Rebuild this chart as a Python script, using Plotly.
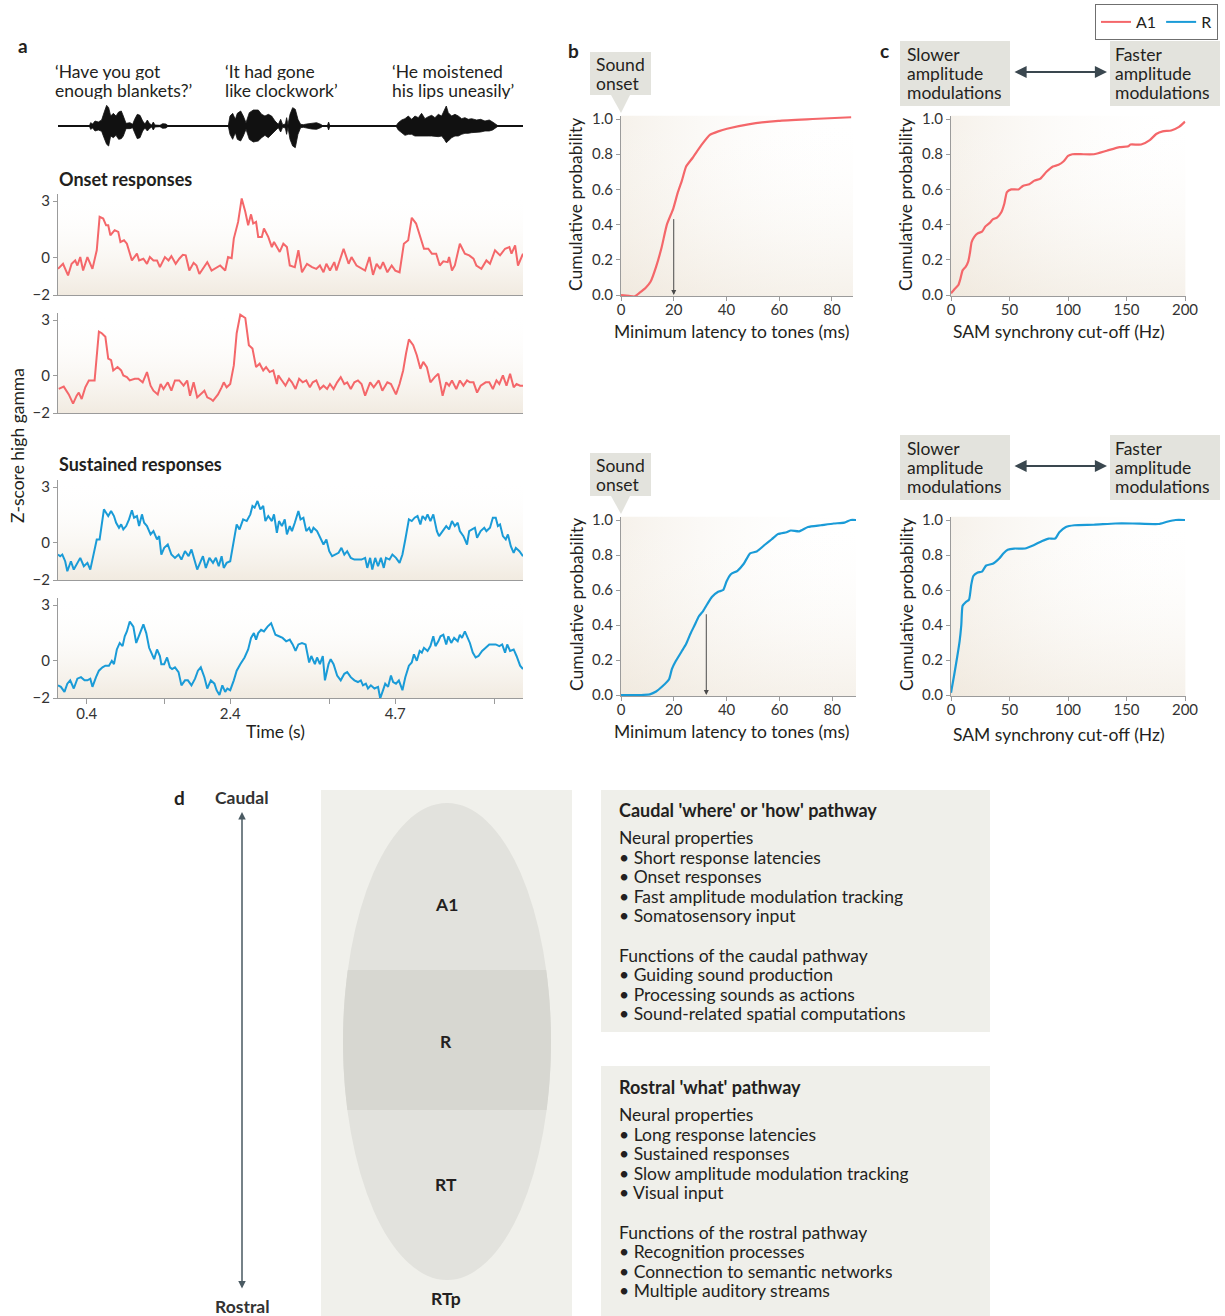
import numpy as np
import plotly.graph_objects as go

W, H = 1225, 1316
RED = '#f4676a'
BLUE = '#1a9bd7'
TXT = '#231f20'
AXC = '#9b9b9b'
BOX = '#e3e3dd'
FONT = 'Lato'

# ---------------- DATA ----------------
# panel a : speech waveform envelopes (time s, upper amp, lower amp)  (arbitrary units)
wave1 = [(0.437,0,0),(0.455,10,10),(0.483,6,6),(0.516,15,15),(0.562,12,12),(0.608,18,16),(0.641,40,35),
         (0.678,62,55),(0.706,55,60),(0.734,30,30),(0.771,38,35),(0.808,30,28),(0.845,42,40),(0.882,45,38),
         (0.910,30,30),(0.948,8,8),(1.003,10,8),(1.040,5,5),(1.068,20,20),(1.105,35,38),(1.143,32,35),
         (1.180,15,15),(1.212,6,6),(1.245,18,15),(1.273,8,8),(1.305,3,3),(1.328,12,12),(1.351,3,3),
         (1.421,2,2),(1.458,7,7),(1.505,6,6),(1.537,0,0)]
wave2 = [(2.373,0,0),(2.397,30,25),(2.434,38,40),(2.471,20,20),(2.499,38,40),(2.545,45,45),(2.582,30,30),
         (2.620,10,10),(2.666,40,40),(2.722,48,48),(2.791,48,45),(2.838,35,35),(2.884,30,28),(2.931,35,35),
         (2.977,30,28),(3.024,15,15),(3.070,5,5),(3.103,20,18),(3.131,4,4),(3.168,6,6),(3.186,25,25),
         (3.205,4,4),(3.233,35,40),(3.270,55,60),(3.307,50,65),(3.344,20,25),(3.381,5,5),(3.418,4,4),
         (3.465,6,6),(3.535,9,9),(3.604,10,10),(3.660,5,5),(3.697,0,0),(3.753,0,0),(3.771,12,12),(3.790,0,0)]
wave3 = [(4.710,0,0),(4.742,10,12),(4.789,18,20),(4.835,22,28),(4.882,30,25),(4.928,20,25),(4.974,30,30),
         (5.021,25,28),(5.067,38,30),(5.114,22,30),(5.160,28,30),(5.207,32,30),(5.253,25,30),(5.300,35,32),
         (5.346,30,30),(5.383,45,40),(5.411,60,50),(5.439,40,45),(5.485,30,35),(5.532,35,30),(5.578,30,30),
         (5.625,22,25),(5.671,25,22),(5.717,20,22),(5.764,22,20),(5.834,18,18),(5.889,20,18),(5.950,15,15),
         (6.010,18,15),(6.057,12,12),(6.103,5,5),(6.136,0,0)]

# onset response 1 (A1)
t_on1 = [0.00,0.07,0.14,0.19,0.24,0.27,0.31,0.35,0.41,0.48,
         0.54,0.58,0.63,0.67,0.70,0.73,0.79,0.84,0.87,0.92,
         0.96,1.03,1.10,1.13,1.19,1.24,1.28,1.33,1.38,1.42,
         1.49,1.54,1.58,1.64,1.69,1.74,1.78,1.83,1.89,1.93,
         1.97,2.03,2.08,2.14,2.21,2.26,2.33,2.37,2.42,2.45,
         2.51,2.56,2.61,2.65,2.69,2.72,2.76,2.79,2.84,2.87,
         2.93,2.98,3.01,3.05,3.09,3.14,3.19,3.23,3.30,3.35,
         3.40,3.47,3.54,3.60,3.65,3.70,3.74,3.79,3.85,3.88,
         3.98,4.05,4.09,4.16,4.23,4.28,4.34,4.39,4.44,4.49,
         4.53,4.59,4.65,4.70,4.76,4.82,4.88,4.93,4.99,5.04,
         5.10,5.16,5.21,5.27,5.32,5.37,5.43,5.45,5.49,5.53,
         5.60,5.67,5.73,5.79,5.83,5.90,5.97,6.02,6.09,6.16,
         6.23,6.29,6.32,6.37,6.41,6.48]
z_on1 = [-0.61,-0.34,-0.96,-0.34,-0.16,-0.43,0.02,-0.70,0.02,-0.61,
         0.38,2.16,2.07,1.71,1.71,1.18,1.45,1.36,0.82,0.91,
         0.73,-0.16,0.20,-0.16,-0.07,-0.34,0.02,-0.16,-0.16,-0.52,
         0.02,-0.16,0.07,-0.34,-0.07,0.14,0.11,-0.70,-0.29,-0.43,
         -0.88,-0.52,-0.25,-0.70,-0.52,-0.43,-0.70,0.02,-0.04,1.00,
         1.89,3.14,2.43,1.71,2.29,1.80,1.89,1.09,1.09,1.54,
         1.09,0.55,0.82,0.55,0.29,0.73,0.55,-0.43,-0.52,0.38,
         -0.79,-0.34,-0.52,-0.61,-0.43,-0.79,-0.34,-0.70,-0.25,-0.70,
         0.46,-0.34,0.02,-0.43,-0.61,-0.70,0.02,-0.93,-0.34,-0.61,
         -0.25,-0.79,-0.43,-0.70,-0.79,0.73,0.91,2.11,1.80,1.18,
         0.46,0.46,0.20,0.20,-0.43,-0.21,-0.25,0.02,-0.70,-0.43,
         0.73,0.20,0.11,-0.07,-0.43,-0.61,-0.16,-0.34,0.38,0.11,
         0.46,0.55,0.20,0.64,-0.43,0.20]

# onset response 2 (A1)  (time s, z)
onset2 = [(0.01,-0.70),(0.08,-0.58),(0.15,-1.00),(0.21,-1.50),(0.26,-1.07),(0.29,-0.90),(0.33,-1.25),(0.38,-0.62),(0.43,-0.25),(0.51,-0.25),
          (0.57,2.38),(0.61,2.29),(0.66,2.10),(0.70,0.93),(0.74,0.84),(0.77,0.29),(0.83,0.47),(0.88,0.29),(0.91,0.02),(0.96,-0.07),
          (1.00,-0.25),(1.07,-0.16),(1.12,-0.16),(1.18,-0.35),(1.24,0.20),(1.29,-0.53),(1.33,-0.80),(1.39,-1.00),(1.43,-0.44),(1.47,-0.71),
          (1.53,-0.35),(1.58,-0.80),(1.63,-0.25),(1.69,-0.25),(1.75,-0.53),(1.80,-0.25),(1.84,-1.07),(1.89,-0.35),(1.94,-1.16),(1.99,-1.00),
          (2.04,-0.80),(2.08,-1.16),(2.13,-1.25),(2.16,-1.35),(2.23,-1.00),(2.28,-0.62),(2.31,-0.35),(2.35,-0.62),(2.40,-0.44),(2.45,0.56),
          (2.49,2.29),(2.54,3.29),(2.61,3.11),(2.66,1.65),(2.71,1.47),(2.76,0.47),(2.81,0.65),(2.86,0.29),(2.90,0.47),(2.95,0.20),
          (3.00,0.29),(3.05,-0.44),(3.07,0.02),(3.12,-0.25),(3.17,-0.53),(3.22,-0.16),(3.26,-0.35),(3.31,-0.71),(3.36,-0.16),(3.41,-0.35),
          (3.46,-0.25),(3.51,-0.62),(3.55,-0.35),(3.60,-0.25),(3.65,-0.71),(3.70,-0.53),(3.75,-0.71),(3.79,-0.44),(3.84,-0.71),(3.89,-0.35),
          (3.94,-0.07),(3.99,-0.44),(4.03,-0.35),(4.08,-0.71),(4.13,-0.35),(4.18,-0.25),(4.23,-0.44),(4.28,-1.07),(4.35,-0.35),(4.40,-0.62),
          (4.47,-0.25),(4.52,-0.80),(4.59,-0.35),(4.64,-0.44),(4.71,-1.00),(4.76,-0.44),(4.81,0.29),(4.85,1.20),(4.89,1.96),(4.95,1.65),
          (5.00,1.11),(5.05,0.38),(5.09,0.75),(5.14,0.47),(5.19,-0.35),(5.25,-0.07),(5.30,0.11),(5.36,-1.07),(5.41,-0.35),(5.45,-0.53),
          (5.49,-0.25),(5.55,-0.71),(5.60,-0.25),(5.65,-0.53),(5.70,-0.25),(5.74,-0.35),(5.79,-0.35),(5.84,-0.90),(5.89,-0.53),(5.96,-0.35),
          (6.01,-0.35),(6.06,-0.71),(6.11,-0.25),(6.15,-0.44),(6.20,0.02),(6.25,-0.53),(6.30,0.11),(6.35,-0.62),(6.39,-0.44),(6.44,-0.53),
          (6.48,-0.53)]

# sustained response 1 (R)
sustained1 = [(0.00,-0.63),(0.03,-0.72),(0.06,-0.63),(0.10,-0.99),(0.13,-1.53),(0.18,-0.99),(0.22,-1.44),(0.27,-1.08),(0.31,-0.81),(0.36,-1.26),
              (0.41,-1.08),(0.45,-1.44),(0.50,-0.45),(0.54,0.18),(0.58,0.18),(0.62,1.17),(0.64,1.80),(0.67,1.62),(0.70,1.44),(0.74,1.71),
              (0.78,1.44),(0.81,1.08),(0.85,0.81),(0.88,0.99),(0.91,0.72),(0.95,0.90),(0.99,1.26),(1.03,1.75),(1.06,1.35),(1.10,1.44),
              (1.13,0.90),(1.17,1.53),(1.20,1.08),(1.24,0.90),(1.29,0.45),(1.33,0.63),(1.38,0.18),(1.41,0.36),(1.44,-0.63),(1.48,-0.27),
              (1.53,-0.09),(1.58,-0.63),(1.63,-0.81),(1.68,-0.63),(1.72,-0.90),(1.77,-0.45),(1.82,-0.72),(1.86,-0.36),(1.89,-0.81),(1.94,-1.44),
              (1.99,-0.99),(2.02,-0.72),(2.06,-1.35),(2.11,-0.81),(2.16,-1.08),(2.20,-0.81),(2.24,-1.26),(2.28,-0.72),(2.31,-1.35),(2.35,-1.08),
              (2.40,-0.99),(2.45,0.09),(2.49,0.99),(2.53,0.72),(2.58,1.26),(2.63,1.17),(2.68,1.53),(2.71,1.98),(2.74,1.89),(2.78,2.25),
              (2.82,1.80),(2.86,1.98),(2.89,1.17),(2.93,1.44),(2.98,1.17),(3.01,1.53),(3.05,0.54),(3.08,1.17),(3.12,0.90),(3.16,1.26),
              (3.19,0.45),(3.23,0.90),(3.26,0.63),(3.30,1.08),(3.35,1.71),(3.38,1.26),(3.42,1.35),(3.46,0.63),(3.50,0.81),(3.53,0.54),
              (3.56,0.81),(3.61,0.63),(3.66,0.18),(3.70,-0.09),(3.74,0.18),(3.78,-0.45),(3.82,-0.72),(3.87,-0.63),(3.91,-0.54),(3.95,-0.27),
              (3.99,-0.63),(4.03,-0.45),(4.08,-0.81),(4.13,-0.90),(4.18,-0.90),(4.23,-0.90),(4.28,-0.81),(4.31,-1.35),(4.35,-0.81),(4.38,-1.44),
              (4.42,-0.81),(4.46,-1.26),(4.50,-0.81),(4.54,-1.35),(4.57,-0.81),(4.62,-0.90),(4.66,-0.63),(4.71,-0.81),(4.76,-1.08),(4.80,-0.63),
              (4.84,0.18),(4.89,1.26),(4.93,1.17),(4.97,1.35),(5.01,1.44),(5.05,0.99),(5.08,1.44),(5.12,1.26),(5.15,1.53),(5.19,1.17),
              (5.23,1.53),(5.28,0.63),(5.31,0.36),(5.36,0.63),(5.41,0.90),(5.45,0.72),(5.49,1.17),(5.53,0.90),(5.57,1.08),(5.60,0.63),
              (5.65,0.36),(5.70,-0.09),(5.73,0.63),(5.77,0.72),(5.81,0.81),(5.84,0.27),(5.89,0.63),(5.94,0.81),(5.97,0.63),(6.02,0.81),
              (6.06,1.35),(6.10,1.35),(6.13,0.90),(6.16,0.99),(6.20,0.36),(6.24,0.18),(6.27,0.45),(6.31,-0.18),(6.35,-0.54),(6.38,-0.27),
              (6.43,-0.45),(6.48,-0.72)]

# sustained response 2 (R)
sustained2 = [(0.00,-1.32),(0.04,-1.40),(0.09,-1.67),(0.13,-1.23),(0.17,-1.05),(0.22,-1.49),(0.27,-0.96),(0.32,-0.88),(0.37,-1.05),(0.41,-1.05),
              (0.45,-0.96),(0.48,-1.40),(0.53,-0.88),(0.57,-0.53),(0.62,-0.35),(0.66,-0.26),(0.71,-0.26),(0.75,0.00),(0.78,-0.18),(0.82,0.61),
              (0.86,0.96),(0.90,0.79),(0.93,1.32),(0.96,1.58),(1.00,2.11),(1.05,1.84),(1.09,0.96),(1.12,1.23),(1.16,1.67),(1.19,1.96),
              (1.23,1.49),(1.27,0.70),(1.30,0.44),(1.34,0.09),(1.38,0.61),(1.42,0.26),(1.44,-0.18),(1.48,-0.18),(1.52,0.18),(1.56,-0.35),
              (1.59,-0.44),(1.63,-0.35),(1.68,-0.61),(1.72,-1.32),(1.77,-1.05),(1.81,-1.05),(1.86,-1.32),(1.91,-0.96),(1.95,-0.53),(1.99,-0.35),
              (2.04,-0.88),(2.08,-1.49),(2.13,-1.05),(2.18,-1.23),(2.21,-1.58),(2.25,-1.84),(2.29,-1.32),(2.33,-1.67),(2.36,-1.49),(2.40,-1.58),
              (2.45,-1.05),(2.49,-0.53),(2.54,-0.18),(2.60,0.18),(2.65,0.61),(2.69,1.23),(2.73,1.49),(2.76,1.14),(2.79,1.49),(2.83,1.67),
              (2.87,1.58),(2.92,1.84),(2.97,2.02),(3.00,1.67),(3.03,1.40),(3.08,1.32),(3.13,1.23),(3.18,1.05),(3.23,1.14),(3.27,0.88),
              (3.31,0.53),(3.35,0.88),(3.40,0.96),(3.45,0.88),(3.50,-0.09),(3.53,0.26),(3.58,-0.18),(3.61,0.18),(3.65,-0.18),(3.69,0.26),
              (3.72,-1.05),(3.77,-0.18),(3.80,0.09),(3.84,-0.18),(3.89,-0.79),(3.94,-1.05),(3.99,-0.70),(4.03,-0.61),(4.08,-0.88),(4.13,-1.05),
              (4.18,-1.14),(4.22,-1.05),(4.25,-1.32),(4.29,-1.23),(4.32,-1.49),(4.36,-1.32),(4.41,-1.49),(4.46,-1.40),(4.49,-2.02),(4.53,-1.58),
              (4.56,-1.23),(4.60,-1.40),(4.64,-0.79),(4.67,-1.14),(4.71,-1.23),(4.75,-1.05),(4.80,-1.58),(4.84,-0.88),(4.89,-0.26),(4.93,-0.09),
              (4.96,0.35),(5.00,0.00),(5.04,0.53),(5.07,0.44),(5.10,0.70),(5.15,0.53),(5.19,0.79),(5.23,1.32),(5.26,0.79),(5.30,1.05),
              (5.33,1.32),(5.37,1.40),(5.41,0.88),(5.44,1.32),(5.48,0.96),(5.52,1.23),(5.57,1.05),(5.60,1.40),(5.63,1.23),(5.67,1.58),
              (5.71,1.23),(5.74,0.96),(5.78,0.44),(5.82,0.18),(5.86,0.26),(5.91,0.53),(5.96,0.70),(6.01,0.88),(6.06,0.88),(6.10,0.88),
              (6.15,0.79),(6.19,0.88),(6.23,0.44),(6.26,0.88),(6.30,0.53),(6.35,0.61),(6.39,0.26),(6.44,-0.26),(6.48,-0.44)]

time_ticks = [0.4, 1.48, 2.4, 3.78, 4.7, 6.08]
time_ticklabels = ['0.4', '', '2.4', '', '4.7', '']
z_ticks = [-2, 0, 3]
z_ticklabels = ['\u22122', '0', '3']

# panel b : cumulative distributions of minimum latency (ms, prob)
lat_A1 = [(0,0.0),(3,-0.005),(5.2,-0.008),(6.8,0.01),(9.3,0.04),(11.2,0.075),(13.3,0.16),(15.4,0.27),(17.4,0.40),
          (19.8,0.49),(21.5,0.58),(23.1,0.65),(24.7,0.73),(27.2,0.78),(30.4,0.85),(33.7,0.91),(36.9,0.93),
          (40.2,0.945),(48.3,0.97),(59.7,0.99),(72.7,1.0),(87.3,1.01)]
lat_R = [(0,0),(7.6,0),(10.9,0.004),(13.3,0.02),(15.7,0.05),(18.2,0.09),(19.3,0.15),(20.6,0.19),(23.0,0.25),
         (24.6,0.29),(26.3,0.35),(27.9,0.40),(29.5,0.45),(31.1,0.48),(32.7,0.52),(34.4,0.56),(36.8,0.59),
         (38.7,0.60),(40.0,0.65),(41.6,0.69),(44.1,0.71),(46.5,0.75),(48.9,0.81),(51.4,0.82),(54.6,0.86),
         (57.1,0.89),(59.5,0.92),(62.7,0.93),(64.3,0.94),(67.5,0.935),(70.8,0.96),(75.7,0.97),(80.6,0.98),
         (84.6,0.985),(87.0,1.0),(89.0,1.0)]
median_lat_A1 = (20, 0.44)
median_lat_R = (32.3, 0.47)

# panel c : cumulative distributions of SAM synchrony cut-off (Hz, prob)
sam_A1 = [(0,0.01),(2.6,0.03),(6.3,0.057),(8.1,0.094),(9.9,0.14),(12.5,0.16),(14.7,0.19),(16.2,0.24),(17.6,0.30),
          (19.9,0.33),(22.8,0.35),(26.5,0.36),(29.4,0.39),(33.1,0.41),(35.7,0.43),(39.3,0.44),(43.0,0.47),
          (45.6,0.52),(47.8,0.585),(51.5,0.60),(57.7,0.60),(61.4,0.62),(66.9,0.63),(71.3,0.65),(76.1,0.66),
          (81.6,0.70),(87.1,0.73),(91.9,0.74),(96.3,0.76),(100.0,0.79),(103.7,0.80),(111.0,0.80),(122.1,0.80),
          (133.1,0.82),(144.1,0.84),(151.5,0.845),(153.3,0.855),(162.5,0.855),(169.9,0.88),(175.4,0.915),
          (180.9,0.93),(188.2,0.935),(194.9,0.955),(200.0,0.985)]
sam_R = [(0,0.013),(2.6,0.11),(5.1,0.21),(7.4,0.31),(8.8,0.40),(9.9,0.51),(12.5,0.53),(15.4,0.545),(17.3,0.63),
         (19.1,0.68),(22.8,0.70),(26.5,0.705),(30.1,0.74),(35.7,0.75),(41.2,0.78),(44.9,0.81),(48.5,0.83),
         (54.0,0.837),(63.2,0.837),(70.6,0.856),(77.9,0.88),(83.5,0.894),(89.0,0.894),(92.6,0.93),(98.2,0.96),
         (105.5,0.97),(122.1,0.973),(140.4,0.98),(155.1,0.98),(177.2,0.977),(184.6,0.99),(191.9,1.0),(200.0,1.0)]

prob_ticks = [0, 0.2, 0.4, 0.6, 0.8, 1.0]
lat_ticks = [0, 20, 40, 60, 80]
sam_ticks = [0, 50, 100, 150, 200]

sentences = [['\u2018Have you got', 'enough blankets?\u2019'],
             ['\u2018It had gone', 'like clockwork\u2019'],
             ['\u2018He moistened', 'his lips uneasily\u2019']]

caudal_heading = "Caudal 'where' or 'how' pathway"
caudal_lines = ['Neural properties', '\u2022 Short response latencies', '\u2022 Onset responses',
                '\u2022 Fast amplitude modulation tracking', '\u2022 Somatosensory input', '',
                'Functions of the caudal pathway', '\u2022 Guiding sound production',
                '\u2022 Processing sounds as actions', '\u2022 Sound-related spatial computations']
rostral_heading = "Rostral 'what' pathway"
rostral_lines = ['Neural properties', '\u2022 Long response latencies', '\u2022 Sustained responses',
                 '\u2022 Slow amplitude modulation tracking', '\u2022 Visual input', '',
                 'Functions of the rostral pathway', '\u2022 Recognition processes',
                 '\u2022 Connection to semantic networks', '\u2022 Multiple auditory streams']
region_labels = ['A1', 'R', 'RT', 'RTp']

# ---------------- HELPERS ----------------
def fx(px):
    return px / W

def fy(py):
    return 1 - py / H

def xdom(a, b):
    return [fx(a), fx(b)]

def ydom(top, bottom):
    return [fy(bottom), fy(top)]

def txt(s, px, py, size=17.5, bold=False, xa='left', ya='middle', color=TXT, angle=0, h=None):
    d = dict(text=('<b>%s</b>' % s) if bold else s, x=fx(px), y=fy(py), xref='paper', yref='paper',
             xanchor=xa, yanchor=ya, showarrow=False, textangle=angle,
             font=dict(size=size, color=color, family=FONT))
    if h is not None:
        d.update(height=h, borderpad=0, valign='middle')
    return d

def rect(x0, y0, x1, y1, color):
    return dict(type='rect', xref='paper', yref='paper', x0=fx(x0), x1=fx(x1), y0=fy(y1), y1=fy(y0),
                fillcolor=color, line=dict(width=0), layer='below')

def poly(points, color):
    d = 'M ' + ' L '.join('%f,%f' % (fx(a), fy(b)) for a, b in points) + ' Z'
    return dict(type='path', xref='paper', yref='paper', path=d, fillcolor=color, line=dict(width=0))

def arrow2(hx, hy, tx, ty, width, color, size=1.0):
    return dict(x=fx(hx), y=fy(hy), xref='paper', yref='paper', axref='pixel', ayref='pixel',
                ax=tx - hx, ay=ty - hy, showarrow=True, arrowhead=2, arrowside='end+start',
                arrowsize=size, arrowwidth=width, arrowcolor=color, text='')

T_RANGE = [0, 6.48]
Z_RANGE = [-2, 3.4]
P_RANGE = [-0.005, 1.02]

fig = go.Figure()

def bg(xa, ya, xr, yr, kind, alpha):
    fig.add_trace(go.Scatter(
        x=[xr[0], xr[1], xr[1], xr[0], xr[0]], y=[yr[0], yr[0], yr[1], yr[1], yr[0]],
        xaxis=xa, yaxis=ya, mode='lines', line=dict(width=0), fill='toself',
        fillcolor='rgba(0,0,0,0)',
        fillgradient=dict(type=kind, colorscale=[[0, 'rgba(232,221,204,%g)' % alpha],
                                                 [1, 'rgba(255,255,255,0)']]),
        hoverinfo='skip', showlegend=False))

for k in ['2', '3', '4', '5']:
    bg('x' + k, 'y' + k, T_RANGE, Z_RANGE, 'vertical', 0.6)
LAT_RANGE_TOP = [0, 88]
LAT_RANGE_BOT = [0, 89]
SAM_RANGE = [0, 200.5]
for k, xr in [('6', LAT_RANGE_TOP), ('7', SAM_RANGE), ('8', LAT_RANGE_BOT), ('9', SAM_RANGE)]:
    bg('x' + k, 'y' + k, xr, P_RANGE, 'horizontal', 0.4)
    bg('x' + k, 'y' + k, xr, P_RANGE, 'vertical', 0.4)

# waveform
wx, wy = [], []
for seg in [wave1, wave2, wave3]:
    ts = [p[0] for p in seg]
    up = [p[1] for p in seg]
    dn = [-p[2] for p in seg]
    wx += ts + ts[::-1] + [None]
    wy += up + dn[::-1] + [None]
fig.add_trace(go.Scatter(x=wx, y=wy, xaxis='x', yaxis='y', mode='lines', fill='toself',
                         fillcolor='#111111', line=dict(color='#111111', width=0.8),
                         hoverinfo='skip', showlegend=False))

def unzip(pairs):
    return [p[0] for p in pairs], [p[1] for p in pairs]

fig.add_trace(go.Scatter(x=t_on1, y=z_on1, xaxis='x2', yaxis='y2', mode='lines', name='A1',
                         line=dict(color=RED, width=2), showlegend=True, legendrank=1))
tx, zy = unzip(onset2)
fig.add_trace(go.Scatter(x=tx, y=zy, xaxis='x3', yaxis='y3', mode='lines',
                         line=dict(color=RED, width=2), showlegend=False))
tx, zy = unzip(sustained1)
fig.add_trace(go.Scatter(x=tx, y=zy, xaxis='x4', yaxis='y4', mode='lines', name='R',
                         line=dict(color=BLUE, width=2), showlegend=True, legendrank=2))
tx, zy = unzip(sustained2)
fig.add_trace(go.Scatter(x=tx, y=zy, xaxis='x5', yaxis='y5', mode='lines',
                         line=dict(color=BLUE, width=2), showlegend=False))

for pairs, k, col in [(lat_A1, '6', RED), (sam_A1, '7', RED), (lat_R, '8', BLUE), (sam_R, '9', BLUE)]:
    xs, ys = unzip(pairs)
    fig.add_trace(go.Scatter(x=xs, y=ys, xaxis='x' + k, yaxis='y' + k, mode='lines',
                             line=dict(color=col, width=2.2, shape='spline', smoothing=0.5),
                             showlegend=False))

# ---------------- AXES ----------------
tickfont = dict(size=15, color='#333333', family=FONT)
base = dict(showgrid=False, zeroline=False, showline=True, linecolor=AXC, linewidth=1,
            tickcolor=AXC, ticklen=4, tickfont=tickfont, fixedrange=True)

lay = {}
lay['xaxis'] = dict(domain=xdom(58, 523), range=T_RANGE, visible=False, anchor='y', fixedrange=True)
lay['yaxis'] = dict(domain=ydom(96, 156), range=[-90, 90], visible=False, anchor='x', fixedrange=True)

a_doms = {'2': (193.5, 295), '3': (312.6, 413), '4': (479.6, 580), '5': (597.6, 698)}
for k, (top, bot) in a_doms.items():
    xa = dict(base, domain=xdom(58, 523), range=T_RANGE, anchor='y' + k)
    if k == '5':
        xa.update(ticks='outside', tickvals=time_ticks, ticktext=time_ticklabels, ticklen=5,
                  ticklabelstandoff=-3)
    else:
        xa.update(ticks='', showticklabels=False)
    lay['xaxis' + k] = xa
    lay['yaxis' + k] = dict(base, domain=ydom(top, bot), range=Z_RANGE, anchor='x' + k,
                            ticks='outside', tickvals=z_ticks, ticktext=z_ticklabels)

bc = {'6': ((621, 853), LAT_RANGE_TOP, lat_ticks, (115.5, 295.9)),
      '7': ((951, 1185.6), SAM_RANGE, sam_ticks, (115.5, 295.9)),
      '8': ((621, 856), LAT_RANGE_BOT, lat_ticks, (516.5, 695.9)),
      '9': ((951, 1185.6), SAM_RANGE, sam_ticks, (516.5, 695.9))}
for k, (xd, xr, xt, yd) in bc.items():
    lay['xaxis' + k] = dict(base, domain=xdom(*xd), range=xr, anchor='y' + k, ticks='outside',
                            tickvals=xt, ticktext=[str(v) for v in xt], ticklabelstandoff=-4)
    lay['yaxis' + k] = dict(base, domain=ydom(*yd), range=P_RANGE, anchor='x' + k, ticks='outside',
                            tickvals=prob_ticks, ticktext=['%.1f' % v for v in prob_ticks])

# ---------------- SHAPES ----------------
shapes = []
shapes.append(dict(type='line', xref='x', yref='y', x0=T_RANGE[0], x1=T_RANGE[1], y0=0, y1=0,
                   line=dict(color='#111111', width=2)))
for top in [52, 453]:
    shapes.append(rect(590, top, 651, top + 43, BOX))
    shapes.append(poly([(611, top + 43), (630, top + 43), (621, top + 61)], BOX))
for top in [41, 435]:
    shapes.append(rect(900, top, 1010, top + 65, BOX))
    shapes.append(rect(1110, top, 1220, top + 65, BOX))
shapes.append(rect(321, 790, 572, 1316, '#f0f0eb'))
shapes.append(rect(601, 790, 990, 1032, '#efefea'))
shapes.append(rect(601, 1066, 990, 1316, '#efefea'))
cx, cy, ea, eb = 447, 1041.5, 104, 238.5
shapes.append(dict(type='circle', xref='paper', yref='paper', x0=fx(cx - ea), x1=fx(cx + ea),
                   y0=fy(cy + eb), y1=fy(cy - eb), fillcolor='#e2e2dd', line=dict(width=0),
                   layer='below'))
band_top, band_bot = 970, 1110
ys = np.linspace(band_top, band_bot, 15)
half = ea * np.sqrt(1 - ((ys - cy) / eb) ** 2)
band_pts = [(cx + h, y) for h, y in zip(half, ys)] + [(cx - h, y) for h, y in zip(half[::-1], ys[::-1])]
bshape = poly(band_pts, '#d7d7d1')
bshape['layer'] = 'below'
shapes.append(bshape)

# ---------------- ANNOTATIONS ----------------
ann = []
ann.append(txt('a', 16, 46, 19, True))
ann.append(txt('b', 566, 50, 19, True))
ann.append(txt('c', 878, 50, 19, True))
ann.append(txt('d', 172, 797, 19, True))

for (l1, l2), xp in zip(sentences, [54, 224, 391]):
    ann.append(txt(l1, xp, 72, 17.5, h=17))
    ann.append(txt(l2, xp, 90, 17.5, h=17))
ann.append(txt('Onset responses', 57, 179, 18, True))
ann.append(txt('Sustained responses', 57, 464, 18, True))
ann.append(txt('Z-score high gamma', 17, 446, 17.5, angle=-90, xa='center'))
ann.append(txt('Time (s)', 275, 731, 17.5, xa='center'))

for top in [52, 453]:
    ann.append(txt('Sound', 595, top + 12, 17.5, h=18))
    ann.append(txt('onset', 595, top + 31, 17.5, h=18))
for top in [41, 435]:
    for i, w in enumerate(['Slower', 'amplitude', 'modulations']):
        ann.append(txt(w, 906, top + 13 + 19 * i, 17.5, h=18))
    for i, w in enumerate(['Faster', 'amplitude', 'modulations']):
        ann.append(txt(w, 1114, top + 13 + 19 * i, 17.5, h=18))
    ann.append(arrow2(1107, top + 31, 1013, top + 31, 2.2, '#3a474f', 1.1))

for xc, yc in [(576, 205), (906, 205), (576, 605), (906, 605)]:
    ann.append(txt('Cumulative probability', xc, yc, 17.5, angle=-90, xa='center'))
ann.append(txt('Minimum latency to tones (ms)', 732, 331, 17.5, xa='center'))
ann.append(txt('Minimum latency to tones (ms)', 732, 731, 17.5, xa='center'))
ann.append(txt('SAM synchrony cut-off (Hz)', 1059, 331, 17.5, xa='center'))
ann.append(txt('SAM synchrony cut-off (Hz)', 1059, 734, 17.5, xa='center'))

for (mx, my), k in [(median_lat_A1, '6'), (median_lat_R, '8')]:
    ann.append(dict(x=mx, y=0, ax=mx, ay=my, xref='x' + k, yref='y' + k, axref='x' + k, ayref='y' + k,
                    showarrow=True, arrowhead=2, arrowsize=1, arrowwidth=1, arrowcolor='#4a4a4a', text=''))

ann.append(arrow2(242, 812, 242, 1290, 1.5, '#4a5a62', 1.0))
ann.append(txt('Caudal', 242, 797, 17.5, True, xa='center', color='#333333'))
ann.append(txt('Rostral', 242, 1306, 17.5, True, xa='center', color='#333333'))
for lab, yp in zip(region_labels, [904, 1041, 1184, 1298]):
    ann.append(txt(lab, 446, yp, 17.5, True, xa='center'))

for heading, lines, y0 in [(caudal_heading, caudal_lines, 810), (rostral_heading, rostral_lines, 1087)]:
    ann.append(txt(heading, 617, y0, 18, True))
    for i, s in enumerate(lines):
        if s:
            ann.append(txt(s, 618, y0 + 27.5 + 19.6 * i, 17.5, h=19))

fig.update_layout(
    width=W, height=H, autosize=False, margin=dict(l=0, r=0, t=0, b=0),
    template='none', paper_bgcolor='white', plot_bgcolor='rgba(0,0,0,0)',
    font=dict(family=FONT, color=TXT), hovermode=False,
    shapes=shapes, annotations=ann,
    legend=dict(orientation='h', x=fx(1218), xanchor='right', y=fy(4), yanchor='top',
                bordercolor='#6f6f6f', borderwidth=1, bgcolor='white', itemwidth=30,
                font=dict(size=16, color=TXT, family=FONT), tracegroupgap=0),
    **lay)

fig.write_html('out.html', config={'displayModeBar': False, 'staticPlot': True},
               post_script="document.body.style.margin='0';document.body.style.overflow='hidden';")
